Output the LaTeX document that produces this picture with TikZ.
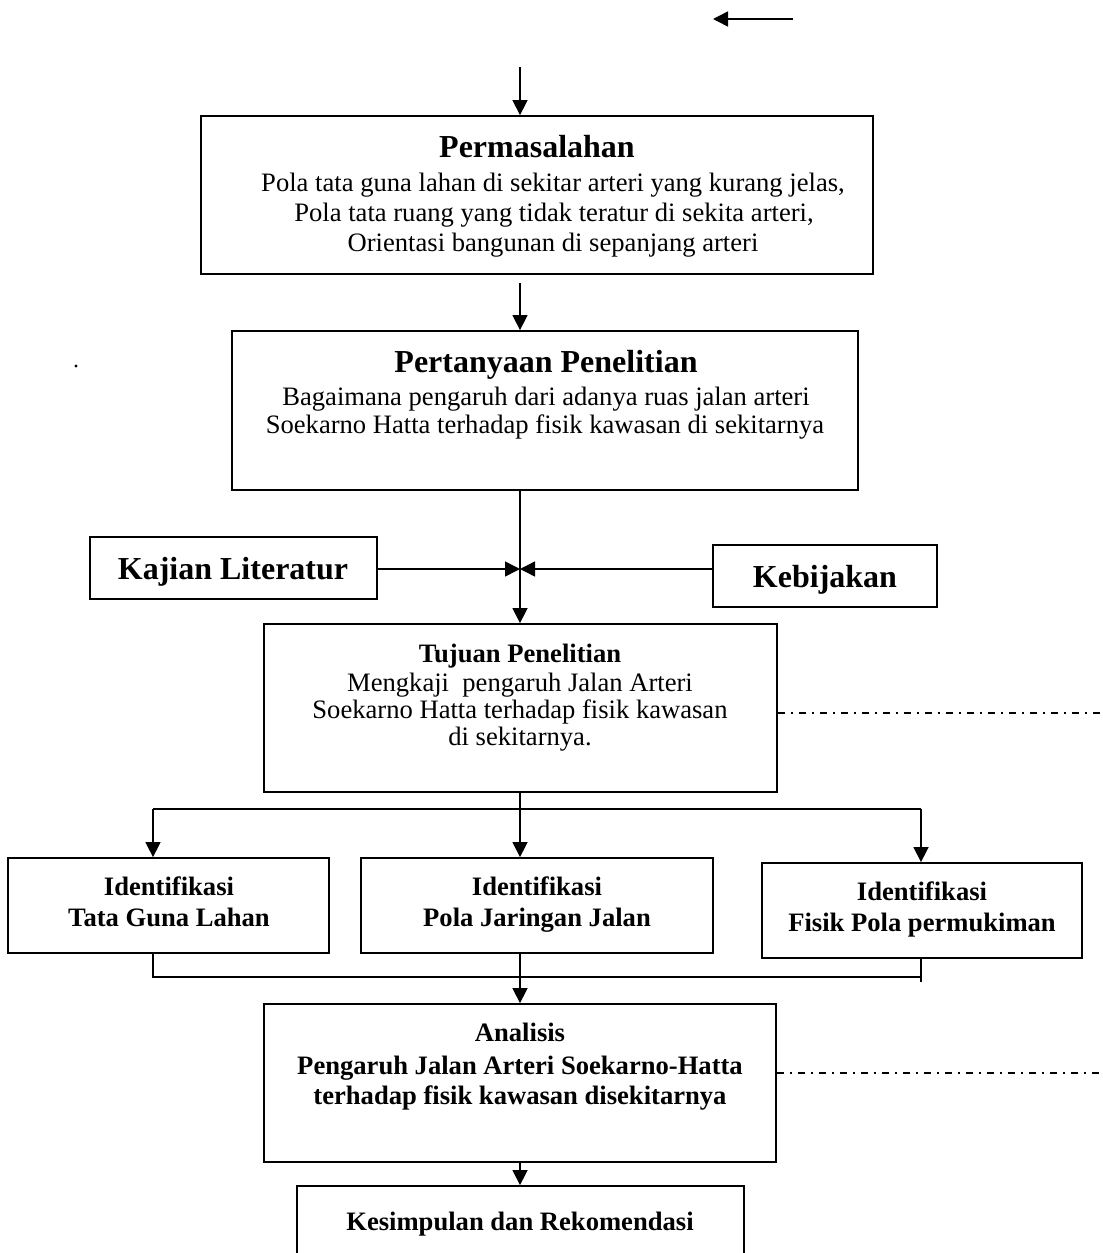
\documentclass[tikz,border=0pt]{standalone}
\usepackage{fontspec}
\setmainfont{Liberation Serif}
\usetikzlibrary{arrows.meta}
\newcommand\fBig{\fontsize{32}{36}\selectfont\bfseries}
\newcommand\fMid{\fontsize{26.6}{30}\selectfont\bfseries}
\newcommand\fBody{\fontsize{26.6}{30}\selectfont}
\tikzset{
  box/.style={draw, line width=1.8pt, inner sep=0pt, rectangle},
  conn/.style={line width=1.5pt},
  arr/.style={line width=1.5pt, -{Triangle[length=15pt,width=15pt]}},
  dd/.style={line width=1.5pt, dash pattern=on 7pt off 6pt on 2pt off 6pt},
  lbl/.style={anchor=base, inner sep=0pt},
}
\begin{document}
\begin{tikzpicture}[x=1pt,y=-1pt]
\useasboundingbox (0,0) rectangle (1103,1253);
\clip (0,0) rectangle (1103,1253);
\fill[white] (0,0) rectangle (1103,1253);

% boxes
\node[box, minimum width=672pt, minimum height=158pt] (perm) at (537,195) {};
\node[box, minimum width=626pt, minimum height=159pt] (pert) at (545,410.5) {};
\node[box, minimum width=287pt, minimum height=62pt] (kaj) at (233.5,568) {};
\node[box, minimum width=224pt, minimum height=62pt] (keb) at (825,576) {};
\node[box, minimum width=513pt, minimum height=168pt] (tuj) at (520.5,708) {};
\node[box, minimum width=321pt, minimum height=95pt] (id1) at (168.5,905.5) {};
\node[box, minimum width=352pt, minimum height=95pt] (id2) at (537,905.5) {};
\node[box, minimum width=320pt, minimum height=95pt] (id3) at (922,910.5) {};
\node[box, minimum width=512pt, minimum height=158pt] (ana) at (520,1083) {};
\node[box, minimum width=447pt, minimum height=84pt] (kes) at (520.5,1228) {};

% texts
\node[lbl, font=\fBig] (permT) at (537,157) {Permasalahan};
\node[lbl, font=\fBody] (perm1) at (553,191) {Pola tata guna lahan di sekitar arteri yang kurang jelas,};
\node[lbl, font=\fBody] (perm2) at (554,221) {Pola tata ruang yang tidak teratur di sekita arteri,};
\node[lbl, font=\fBody] (perm3) at (553,251) {Orientasi bangunan di sepanjang arteri};

\node[lbl, font=\fBig] (pertT) at (546,372) {Pertanyaan Penelitian};
\node[lbl, font=\fBody] (pert1) at (546,405) {Bagaimana pengaruh dari adanya ruas jalan arteri};
\node[lbl, font=\fBody] (pert2) at (545,433) {Soekarno Hatta terhadap fisik kawasan di sekitarnya};

\node[lbl, font=\fBig] (kajT) at (233,579) {Kajian Literatur};
\node[lbl, font=\fBig] (kebT) at (825,587) {Kebijakan};

\node[lbl, font=\fMid] (tujT) at (520,662) {Tujuan Penelitian};
\node[lbl, font=\fBody] (tuj1) at (520,691) {Mengkaji\ \ pengaruh Jalan Arteri};
\node[lbl, font=\fBody] (tuj2) at (520,718) {Soekarno Hatta terhadap fisik kawasan};
\node[lbl, font=\fBody] (tuj3) at (520,745) {di sekitarnya.};

\node[lbl, font=\fMid] (id1a) at (169,895) {Identifikasi};
\node[lbl, font=\fMid] (id1b) at (169,926) {Tata Guna Lahan};
\node[lbl, font=\fMid] (id2a) at (537,895) {Identifikasi};
\node[lbl, font=\fMid] (id2b) at (537,926) {Pola Jaringan Jalan};
\node[lbl, font=\fMid] (id3a) at (922,900) {Identifikasi};
\node[lbl, font=\fMid] (id3b) at (922,931) {Fisik Pola permukiman};

\node[lbl, font=\fMid] (anaT) at (520,1041) {Analisis};
\node[lbl, font=\fMid] (ana1) at (520,1074) {Pengaruh Jalan Arteri Soekarno-Hatta};
\node[lbl, font=\fMid] (ana2) at (520,1104) {terhadap fisik kawasan disekitarnya};

\node[lbl, font=\fMid] (kesT) at (520,1230) {Kesimpulan dan Rekomendasi};

% stray dot
\fill (76,366) circle (1.6pt);

% coordinates
\coordinate (t0) at (793,19);
\coordinate (t1) at (713,19);
\coordinate (a0) at (520,67);
\coordinate (a1) at (520,283);
\coordinate (m) at (520,569);
\coordinate (b1) at (153,809);
\coordinate (b2) at (520,809);
\coordinate (b3) at (921,809);
\coordinate (c1) at (153,977);
\coordinate (c3) at (921,977);
\coordinate (c3e) at (921,982);
\coordinate (e1) at (1103,713);
\coordinate (e2) at (1103,1073);

% connectors
\draw[arr] (t0) -- (t1);
\draw[arr] (a0) -- (a0 |- perm.north);
\draw[arr] (a1) -- (a1 |- pert.north);
\draw[arr] (pert.south -| m) -- (tuj.north -| m);
\draw[arr] (kaj.east |- m) -- (m);
\draw[arr] (keb.west |- m) -- (m);
\draw[conn] (tuj.south -| b2) -- (b2);
\draw[conn] (b1) -- (b3);
\draw[arr] (b1) -- (b1 |- id1.north);
\draw[arr] (b2) -- (b2 |- id2.north);
\draw[arr] (b3) -- (b3 |- id3.north);
\draw[conn] (c1 |- id1.south) -- (c1) -- (c3);
\draw[conn] (c3 |- id3.south) -- (c3e);
\draw[arr] (id2.south -| m) -- (ana.north -| m);
\draw[arr] (ana.south -| m) -- (kes.north -| m);
\draw[dd] (tuj.east |- e1) -- (e1);
\draw[dd] (ana.east |- e2) -- (e2);
\end{tikzpicture}
\end{document}
